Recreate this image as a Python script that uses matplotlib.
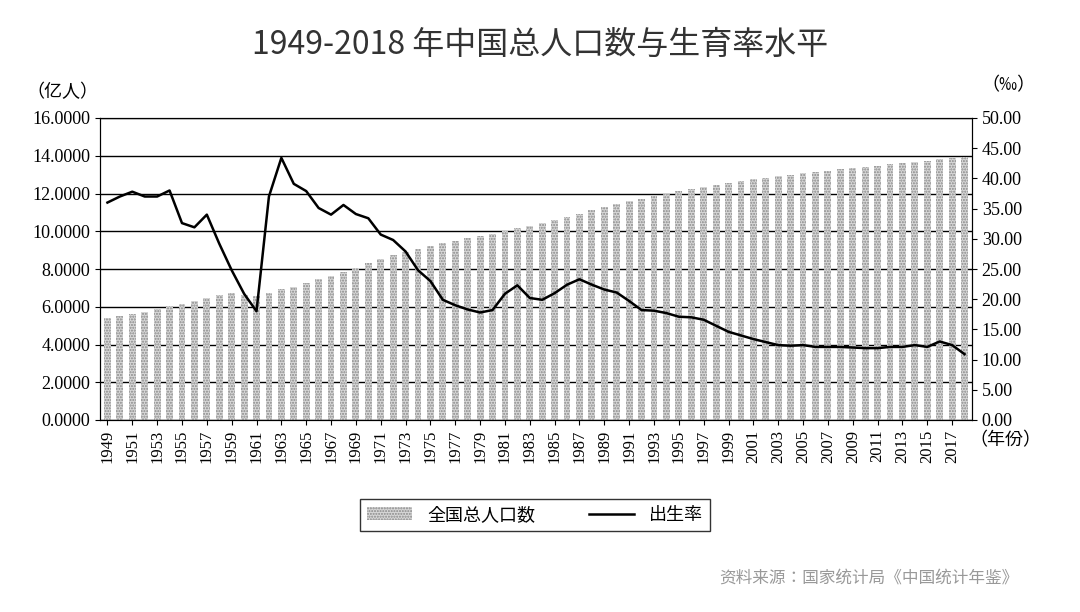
import matplotlib
matplotlib.use("Agg")
import matplotlib.pyplot as plt
from matplotlib import font_manager
import numpy as np

avail = {f.name for f in font_manager.fontManager.ttflist}
cjk = [n for n in ['Noto Sans CJK SC', 'Noto Sans CJK JP', 'Noto Sans CJK TC', 'Noto Sans CJK KR',
                   'Noto Sans SC', 'Noto Sans CJK'] if n in avail]
cjk += [n for n in avail if 'CJK' in n and n not in cjk]
plt.rcParams['font.family'] = 'sans-serif'
plt.rcParams['font.sans-serif'] = cjk + ['DejaVu Sans']

years = list(range(1949, 2019))
population = [5.4167, 5.5196, 5.6300, 5.7482, 5.8796, 6.0266, 6.1465, 6.2828, 6.4653, 6.5994,
              6.7207, 6.6207, 6.5859, 6.7295, 6.9172, 7.0499, 7.2538, 7.4542, 7.6368, 7.8534,
              8.0671, 8.2992, 8.5229, 8.7177, 8.9211, 9.0859, 9.2420, 9.3717, 9.4974, 9.6259,
              9.7542, 9.8705, 10.0072, 10.1654, 10.3008, 10.4357, 10.5851, 10.7507, 10.9300, 11.1026,
              11.2704, 11.4333, 11.5823, 11.7171, 11.8517, 11.9850, 12.1121, 12.2389, 12.3626, 12.4761,
              12.5786, 12.6743, 12.7627, 12.8453, 12.9227, 12.9988, 13.0756, 13.1448, 13.2129, 13.2802,
              13.3450, 13.4091, 13.4735, 13.5404, 13.6072, 13.6782, 13.7462, 13.8271, 13.9008, 13.9538]
birth_rate = [36.0, 37.0, 37.8, 37.0, 37.0, 38.0, 32.6, 31.9, 34.0, 29.2,
              24.8, 20.9, 18.0, 37.0, 43.4, 39.1, 37.9, 35.1, 34.0, 35.6,
              34.1, 33.4, 30.7, 29.8, 27.9, 24.8, 23.0, 19.9, 19.0, 18.3,
              17.8, 18.2, 20.9, 22.3, 20.2, 19.9, 21.0, 22.4, 23.3, 22.4,
              21.6, 21.1, 19.7, 18.2, 18.1, 17.7, 17.1, 17.0, 16.6, 15.6,
              14.6, 14.0, 13.4, 12.9, 12.4, 12.3, 12.4, 12.1, 12.1, 12.1,
              12.0, 11.9, 11.9, 12.1, 12.1, 12.4, 12.1, 13.0, 12.4, 10.9]

fig = plt.figure(figsize=(10.8, 6.12), dpi=100)
ax = fig.add_axes([100/1080, 1-420/612, 872/1080, 302/612])
x = np.arange(len(years))
plt.rcParams['hatch.color'] = '#777777'
bars = ax.bar(x, population, width=0.55, color='#d8d8d8', edgecolor='#888888',
              hatch='......', linewidth=0, label='全国总人口数', zorder=2)
ax.set_ylim(0, 16)
ax.set_yticks(np.arange(0, 16.1, 2))
ax.set_yticklabels([f"{v:.4f}" for v in np.arange(0, 16.1, 2)], fontfamily='Liberation Serif', fontsize=13)
ax.grid(axis='y', color='black', linewidth=1, zorder=1)
ax.set_axisbelow(True)
ax.set_xlim(-0.6, len(years) - 0.4)
ax.set_xticks(x[::2])
ax.set_xticklabels([str(y) for y in years[::2]], rotation=90, fontfamily='Liberation Serif', fontsize=12)

ax2 = ax.twinx()
line, = ax2.plot(x, birth_rate, color='black', linewidth=1.8, label='出生率', zorder=3)
ax2.set_ylim(0, 50)
ax2.set_yticks(np.arange(0, 50.1, 5))
ax2.set_yticklabels([f"{v:.2f}" for v in np.arange(0, 50.1, 5)], fontfamily='Liberation Serif', fontsize=13)

fig.text(0.5, 1-45/612, '1949-2018 年中国总人口数与生育率水平', ha='center', va='center', fontsize=23, color='#333333')
fig.text(62/1080, 1-92/612, '（亿人）', ha='center', va='center', fontsize=13)
fig.text(1008/1080, 1-85/612, '（‰）', ha='center', va='center', fontsize=13)
fig.text(1005/1080, 1-440/612, '（年份）', ha='center', va='center', fontsize=13)
fig.text(1018/1080, 1-578/612, '资料来源：国家统计局《中国统计年鉴》', ha='right', va='center', fontsize=12, color='#999999')

fig.legend(handles=[bars, line], labels=['全国总人口数', '出生率'], loc='center',
           bbox_to_anchor=(535/1080, 1-515/612), ncol=2, fancybox=False, edgecolor='black',
           fontsize=13, handlelength=2.5, columnspacing=3)

fig.savefig('out.png', dpi=100)
